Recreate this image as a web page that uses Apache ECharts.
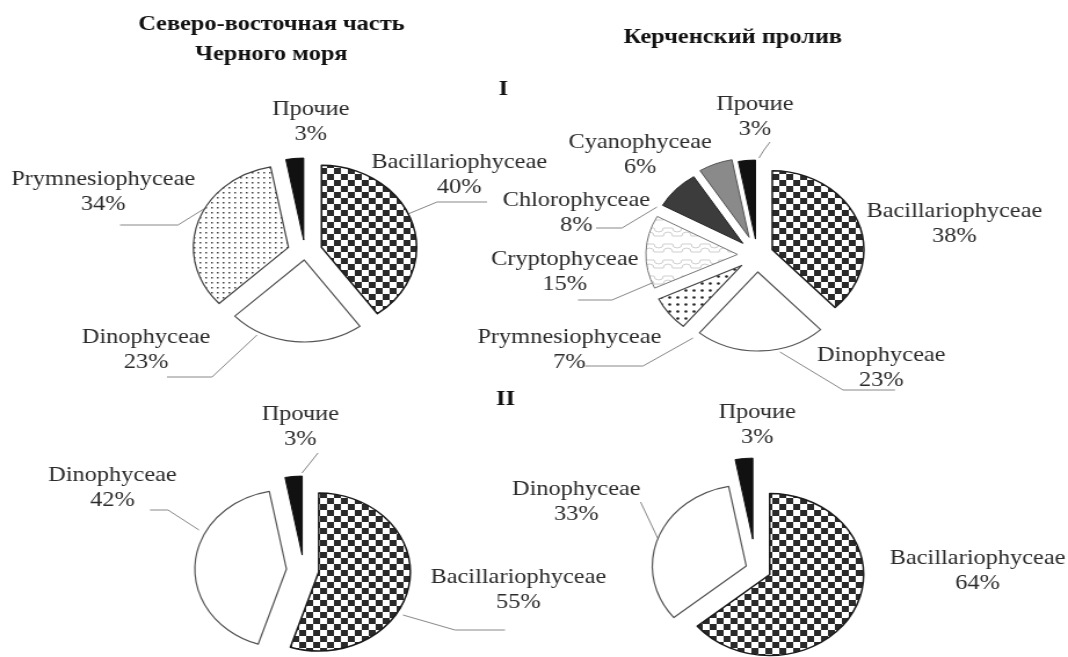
<!DOCTYPE html>
<html>
<head>
<meta charset="utf-8">
<script src="https://cdn.jsdelivr.net/npm/echarts@6/dist/echarts.min.js"></script>
<style>
  html, body { margin: 0; padding: 0; background: #fff; overflow: hidden; }
  /* исходный рисунок растянут по горизонтали */
  #main { width: 921px; height: 657px; transform: scaleX(1.1596); transform-origin: 0 0; }
</style>
</head>
<body>
<div id="main"></div>
<script>
// данные: доли групп фитопланктона, %
const names1 = ['Bacillariophyceae', 'Dinophyceae', 'Prymnesiophyceae', 'Прочие'];
const values1 = [40, 23, 34, 3];

const names2 = ['Bacillariophyceae', 'Dinophyceae', 'Prymnesiophyceae', 'Cryptophyceae', 'Chlorophyceae', 'Cyanophyceae', 'Прочие'];
const values2 = [38, 23, 7, 15, 8, 6, 3];

const names3 = ['Bacillariophyceae', 'Dinophyceae', 'Прочие'];
const values3 = [55, 42, 3];

const names4 = ['Bacillariophyceae', 'Dinophyceae', 'Прочие'];
const values4 = [64, 33, 3];

const titleLeft = 'Северо-восточная часть\nЧерного моря';
const titleRight = 'Керченский пролив';
const periods = ['I', 'II'];

const SX = 1068 / 921;

// вынос секторов и положение подписей (центр блока подписи)
const offsets1 = [15, 8, 15, 12];
const offsets2 = [14, 17, 17, 17, 17, 19, 16];
const offsets3 = [13, 15, 15];
const offsets4 = [13, 9, 30];
const labelPos1 = [[396, 175], [126, 350], [89, 192], [268, 122]];
const labelPos2 = [[823, 224], [760, 368], [491, 350], [487, 272], [497, 213], [552, 155], [651, 117]];
const labelPos3 = [[447, 590], [97, 488], [259, 427]];
const labelPos4 = [[843, 571], [497, 502], [653, 425]];

// выноски (в координатах рисунка), null — без выноски, 'auto' — по умолчанию
const leaders1 = [
  [[408, 214], [437, 202], [487, 202]],
  [[257, 335], [212, 377], [167, 377]],
  [[207, 207], [178, 225], [120, 225]],
  null
];
const leaders2 = [
  null,
  [[780, 352], [843, 390], [895, 390]],
  [[693, 338], [643, 366], [585, 366]],
  [[652, 283], [612, 300], [578, 300]],
  [[657, 207], [622, 228], [596, 228]],
  null,
  [[759, 158], [764, 150], [770, 142]]
];
const leaders3 = [
  [[403, 615], [455, 630], [505, 630]],
  [[199, 530], [168, 510], [150, 510]],
  [[302, 473], [310, 463], [318, 453]]
];
const leaders4 = [null, 'auto', null];

const SERIF = '"Liberation Serif", "Times New Roman", serif';

/** штриховки */
function makePattern(size, draw) {
  const c = document.createElement('canvas');
  c.width = size;
  c.height = size;
  const ctx = c.getContext('2d');
  ctx.fillStyle = '#fff';
  ctx.fillRect(0, 0, size, size);
  draw(ctx, size);
  return { image: c, repeat: 'repeat' };
}

const checker = makePattern(12, ctx => {
  ctx.fillStyle = '#2a2a2a';
  ctx.fillRect(0, 0, 6, 6);
  ctx.fillRect(6, 6, 6, 6);
});
const dotsSmall = makePattern(5, ctx => {
  ctx.fillStyle = '#444';
  ctx.fillRect(2, 2, 1.5, 1.5);
});
const dotsBig = makePattern(7, ctx => {
  ctx.fillStyle = '#222';
  ctx.beginPath();
  ctx.arc(3.5, 3.5, 1.3, 0, Math.PI * 2);
  ctx.fill();
});
const puzzle = makePattern(16, ctx => {
  ctx.strokeStyle = '#cfcfcf';
  ctx.lineWidth = 1;
  ctx.beginPath();
  ctx.arc(8, 4, 4, 0, Math.PI);
  ctx.stroke();
  ctx.beginPath();
  ctx.arc(0, 12, 4, Math.PI, Math.PI * 2);
  ctx.stroke();
  ctx.beginPath();
  ctx.arc(16, 12, 4, Math.PI, Math.PI * 2);
  ctx.stroke();
  ctx.beginPath();
  ctx.moveTo(0, 4); ctx.lineTo(4, 4);
  ctx.moveTo(12, 4); ctx.lineTo(16, 4);
  ctx.moveTo(4, 12); ctx.lineTo(12, 12);
  ctx.stroke();
});

const styles = {
  'Bacillariophyceae': { color: checker, borderColor: '#1a1a1a', borderWidth: 1.5 },
  'Dinophyceae': { color: '#fff', borderColor: '#555', borderWidth: 1.2 },
  'Prymnesiophyceae': { color: dotsSmall, borderColor: '#444', borderWidth: 1.2 },
  'Cryptophyceae': { color: puzzle, borderColor: '#777', borderWidth: 1 },
  'Chlorophyceae': { color: '#3c3c3c', borderColor: '#222', borderWidth: 1 },
  'Cyanophyceae': { color: '#8a8a8a', borderColor: '#555', borderWidth: 1 },
  'Прочие': { color: '#111', borderColor: '#111', borderWidth: 1 }
};

/** разрезанная диаграмма: каждый сектор отдельной серией со своим выносом */
function explodedPie(names, values, center, radius, offsets, labelPos, leaders, override) {
  const total = values.reduce((s, v) => s + v, 0);
  let acc = 0;
  return names.map((name, i) => {
    const a0 = acc / total * 360;
    acc += values[i];
    const a1 = acc / total * 360;
    const mid = (a0 + a1) / 2 * Math.PI / 180;
    const pos = labelPos[i];
    const leader = leaders[i];
    const points = Array.isArray(leader) ? leader.map(p => [p[0] / SX, p[1]]) : undefined;
    return {
      type: 'pie',
      center: [center[0] + offsets[i] * Math.sin(mid), center[1] - offsets[i] * Math.cos(mid)],
      radius: radius,
      startAngle: 90 - a0,
      endAngle: 90 - a1,
      clockwise: true,
      avoidLabelOverlap: false,
      animation: false,
      emphasis: { disabled: true },
      label: {
        show: true,
        formatter: '{b}\n{c}%',
        fontFamily: SERIF,
        fontSize: 21,
        lineHeight: 25,
        color: '#2b2b2b',
        align: 'center'
      },
      labelLine: {
        show: leader != null,
        length: 8,
        length2: 0,
        smooth: false,
        lineStyle: { color: '#888', width: 1 }
      },
      labelLayout: () => ({
        x: pos[0],
        y: pos[1],
        align: 'center',
        verticalAlign: 'middle',
        labelLinePoints: points
      }),
      data: [{
        name: name,
        value: values[i],
        itemStyle: Object.assign({}, styles[name], (override || {})[name])
      }]
    };
  });
}

const chart = echarts.init(document.getElementById('main'));

const boldText = (text, x, y, lh) => ({
  type: 'text', x: x, y: y,
  style: {
    text: text, fill: '#111', font: 'bold 21px ' + SERIF,
    textAlign: 'center', textVerticalAlign: 'middle', lineHeight: lh || 24
  }
});

chart.setOption({
  backgroundColor: '#fff',
  animation: false,
  graphic: [
    boldText(titleLeft, 234, 40, 30),
    boldText(titleRight, 632, 38),
    boldText(periods[0], 434, 90),
    boldText(periods[1], 436, 400)
  ],
  series: [].concat(
    explodedPie(names1, values1, [263, 252], 82, offsets1, labelPos1, leaders1),
    explodedPie(names2, values2, [653, 255], 79, offsets2, labelPos2, leaders2,
      { 'Prymnesiophyceae': { color: dotsBig } }),
    explodedPie(names3, values3, [262, 570], 79, offsets3, labelPos3, leaders3),
    explodedPie(names4, values4, [652, 569], 81, offsets4, labelPos4, leaders4)
  )
});
</script>
</body>
</html>
